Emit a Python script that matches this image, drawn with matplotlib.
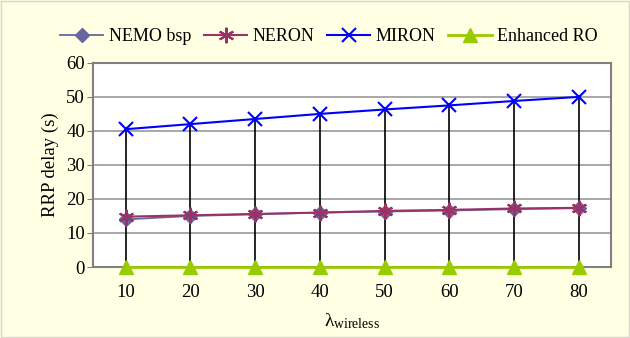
import matplotlib.pyplot as plt
import numpy as np

plt.rcParams['font.family'] = ['Liberation Serif', 'DejaVu Serif']
plt.rcParams['mathtext.fontset'] = 'custom'
plt.rcParams['mathtext.rm'] = 'Liberation Serif'
plt.rcParams['mathtext.it'] = 'Liberation Serif:italic'

categories = ['10', '20', '30', '40', '50', '60', '70', '80']
nemo_bsp = [14.0, 15.0, 15.5, 16.0, 16.3, 16.6, 17.0, 17.3]
neron = [14.8, 15.2, 15.6, 16.0, 16.5, 16.8, 17.2, 17.4]
miron = [40.5, 42.0, 43.5, 45.0, 46.3, 47.5, 48.8, 50.0]
enhanced_ro = [0, 0, 0, 0, 0, 0, 0, 0]

bg = '#FFFFE3'
fig = plt.figure(figsize=(6.3, 3.38), dpi=100, facecolor=bg)
ax = fig.add_axes([0.148, 0.21, 0.822, 0.604])
ax.set_facecolor('white')

x = np.arange(len(categories))
all_series = np.array([nemo_bsp, neron, miron, enhanced_ro])
ax.vlines(x, all_series.min(axis=0), all_series.max(axis=0),
          color='black', lw=1.2, zorder=2)

ax.plot(x, nemo_bsp, color='#6666A0', marker='D', ms=9, lw=1.3,
        label='NEMO bsp', zorder=3)
ax.plot(x, neron, color='#993366', marker=(6, 2, 0), ms=15, mew=1.5,
        lw=1.5, label='NERON', zorder=4)
ax.plot(x, miron, color='#0000FF', marker='x', ms=14, mew=1.5, lw=1.5,
        label='MIRON', zorder=4)
ax.plot(x, enhanced_ro, color='#99CC00', marker='^', ms=14, lw=2,
        label='Enhanced RO', zorder=5, clip_on=False)

ax.set_xlim(-0.5, len(categories) - 0.5)
ax.set_ylim(0, 60)
ax.set_yticks(range(0, 61, 10))
ax.set_xticks(x)
ax.set_xticklabels(categories)
ax.tick_params(axis='x', length=0, labelsize=13.5, pad=12)
ax.tick_params(axis='y', length=4, color='#808080', labelsize=13.5, pad=2)
ax.grid(axis='y', color='#999999', lw=1.2)
ax.set_axisbelow(True)
for s in ax.spines.values():
    s.set_color('#808080')
    s.set_linewidth(1.5)

ax.set_ylabel('RRP delay (s)', fontsize=13.5, labelpad=5)
ax.set_xlabel(r'λ$_{\mathrm{wireless}}$', fontsize=14, labelpad=8)

handles, labels = ax.get_legend_handles_labels()
for h in handles:
    h.set_markersize(h.get_markersize() * 0.75)
fig.legend(handles, labels, loc='upper center', bbox_to_anchor=(0.522, 0.965),
           ncol=4, frameon=False, fontsize=13, handlelength=2.4,
           columnspacing=0.7, handletextpad=0.3)

fig.patches.append(plt.Rectangle((0.002, 0.003), 0.996, 0.994,
                                 transform=fig.transFigure, fill=False,
                                 edgecolor='#D8D8C8', lw=1))

fig.savefig('out.png', dpi=100, facecolor=bg)
